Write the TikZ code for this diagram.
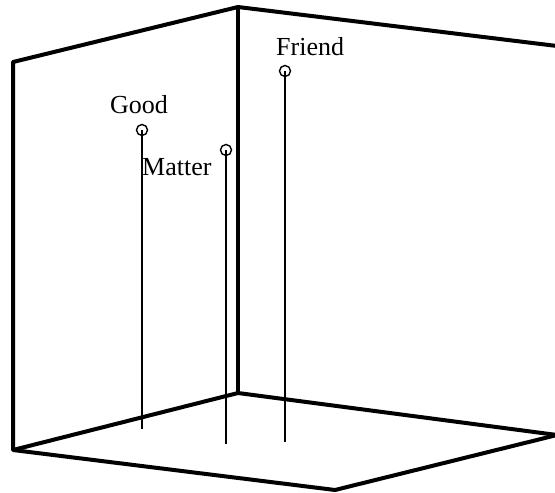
\documentclass[tikz,border=0pt]{standalone}
\usepackage{fontspec}
\setmainfont{Liberation Serif}
\begin{document}
\begin{tikzpicture}[x=1pt,y=-1pt,
  edge/.style={line width=4pt,line join=round},
  pin/.style={circle,draw,line width=1.4pt,inner sep=0pt,minimum size=11pt},
  stem/.style={line width=1.7pt},
  word/.style={font=\fontsize{26}{31}\selectfont,inner sep=0pt,anchor=base west}]
 \useasboundingbox (0,0) rectangle (555,493);
 % corners of the box
 \coordinate (tl) at (13,62);
 \coordinate (tm) at (238,7);
 \coordinate (tr) at (557,46);
 \coordinate (bl) at (13,450);
 \coordinate (bm) at (238,393);
 \coordinate (br) at (557,435);
 \coordinate (bf) at (335,490);
 \draw[edge] (tr) -- (tm) -- (tl) -- (bl) -- (bf) -- (br);
 \draw[edge] (bl) -- (bm) -- (br);
 \draw[edge] (tm) -- (bm);
 % points with their stems
 \node[pin] (good) at (142,130) {};
 \node[pin] (matter) at (226,150) {};
 \node[pin] (friend) at (285,71) {};
 \coordinate (goodfoot) at (142,429);
 \coordinate (matterfoot) at (226,444);
 \coordinate (friendfoot) at (285,442);
 \draw[stem] (good.center) -- (goodfoot);
 \draw[stem] (matter.center) -- (matterfoot);
 \draw[stem] (friend.center) -- (friendfoot);
 \node[word] (goodlabel) at (110,113) {Good};
 \node[word] (matterlabel) at (142,175) {Matter};
 \node[word] (friendlabel) at (276,55) {Friend};
\end{tikzpicture}
\end{document}
